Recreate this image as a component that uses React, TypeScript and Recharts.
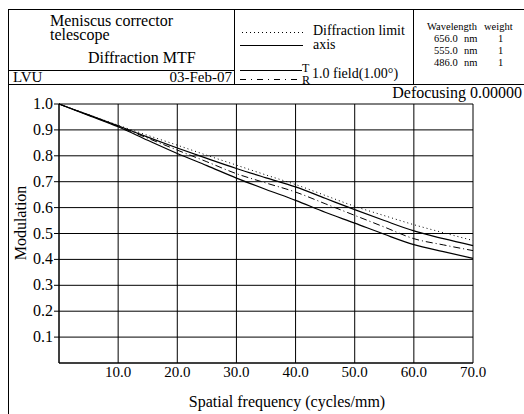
import { LineChart, Line, XAxis, YAxis, CartesianGrid } from 'recharts';

// spatial frequency (cycles/mm)
const freq = [0, 5, 10, 15, 20, 25, 30, 35, 40, 45, 50, 55, 60, 65, 70];

// modulation values
const diffLimit = [1.0, 0.959, 0.918, 0.879, 0.841, 0.802, 0.764, 0.726, 0.689, 0.647, 0.605, 0.569, 0.534, 0.503, 0.473];
const axisMtf = [1.0, 0.958, 0.916, 0.872, 0.83, 0.79, 0.751, 0.715, 0.68, 0.636, 0.592, 0.55, 0.51, 0.48, 0.453];
const fieldT = [1.0, 0.956, 0.912, 0.86, 0.809, 0.762, 0.714, 0.67, 0.628, 0.582, 0.54, 0.497, 0.457, 0.43, 0.404];
const fieldR = [1.0, 0.957, 0.914, 0.868, 0.822, 0.777, 0.731, 0.695, 0.66, 0.615, 0.57, 0.525, 0.48, 0.456, 0.434];

const xTicks = [10, 20, 30, 40, 50, 60, 70];
const yTicks = [0.1, 0.2, 0.3, 0.4, 0.5, 0.6, 0.7, 0.8, 0.9, 1.0];

const wavelengths = ['656.0', '555.0', '486.0'];
const weights = ['1', '1', '1'];

const data = freq.map((f, i) => ({
  freq: f,
  diff: diffLimit[i],
  axis: axisMtf[i],
  t: fieldT[i],
  r: fieldR[i],
}));

const FONT = "'Liberation Serif', 'Times New Roman', serif";
const DOTTED = '1 3';
const DASHDOT = '7 3 1 3';

const XTick = ({ x, y, payload }: any) => (
  <text x={x} y={y + 14} textAnchor="middle" fontFamily={FONT} fontSize={15} fill="#000">
    {Number(payload.value).toFixed(1)}
  </text>
);

const YTick = ({ x, y, payload }: any) => (
  <text x={x} y={y + 5} textAnchor="end" fontFamily={FONT} fontSize={16} fill="#000">
    {Number(payload.value).toFixed(1)}
  </text>
);

const Header = () => (
  <svg
    width={524}
    height={414}
    style={{ position: 'absolute', left: 0, top: 0, pointerEvents: 'none' }}
    fontFamily={FONT}
    fill="#000"
  >
    {/* frame */}
    <g stroke="#000" strokeWidth={1} fill="none">
      <line x1={8} y1={9.5} x2={524} y2={9.5} />
      <line x1={8.5} y1={9.5} x2={8.5} y2={414} />
      <line x1={8} y1={84.5} x2={524} y2={84.5} />
      <line x1={234.5} y1={9.5} x2={234.5} y2={84.5} />
      <line x1={413.5} y1={9.5} x2={413.5} y2={84.5} />
      <line x1={8} y1={70.5} x2={234} y2={70.5} />
    </g>

    {/* title block */}
    <text x={50} y={26} fontSize={16}>Meniscus corrector</text>
    <text x={50} y={40} fontSize={16}>telescope</text>
    <text x={88} y={63} fontSize={16}>Diffraction MTF</text>
    <text x={13} y={82} fontSize={15}>LVU</text>
    <text x={232} y={82} fontSize={15} textAnchor="end">03-Feb-07</text>

    {/* legend */}
    <g stroke="#000" strokeWidth={1}>
      <line x1={242} y1={32.5} x2={305} y2={32.5} strokeDasharray={DOTTED} />
      <line x1={240} y1={45.5} x2={303} y2={45.5} />
      <line x1={240} y1={70.5} x2={302} y2={70.5} />
      <line x1={240} y1={79.5} x2={302} y2={79.5} strokeDasharray="6 5 1 5" />
    </g>
    <text x={313} y={35} fontSize={14}>Diffraction limit</text>
    <text x={313} y={49} fontSize={14}>axis</text>
    <text x={302} y={72} fontSize={12}>T</text>
    <text x={302} y={84} fontSize={12}>R</text>
    <text x={312} y={78} fontSize={14}>1.0 field(1.00°)</text>

    {/* wavelengths */}
    <text x={427} y={30} fontSize={10.5}>Wavelength</text>
    <text x={484} y={30} fontSize={10.5}>weight</text>
    {wavelengths.map((w, i) => (
      <g key={w} fontSize={10.5}>
        <text x={434} y={42 + i * 12}>{w}</text>
        <text x={464} y={42 + i * 12}>nm</text>
        <text x={498} y={42 + i * 12}>{weights[i]}</text>
      </g>
    ))}

    <text x={522} y={98} fontSize={16} textAnchor="end">Defocusing 0.00000</text>

    {/* axis titles */}
    <text x={287} y={407} fontSize={16} textAnchor="middle">Spatial frequency (cycles/mm)</text>
    <text x={26} y={223} fontSize={16} textAnchor="middle" transform="rotate(-90 26 223)">Modulation</text>
  </svg>
);

export default function App() {
  return (
    <div style={{ position: 'absolute', left: 0, top: 0, width: 524, height: 414, background: '#fff', fontFamily: FONT }}>
      <LineChart
        width={524}
        height={414}
        data={data}
        margin={{ top: 104, right: 51, bottom: 21, left: 9 }}
      >
        <CartesianGrid stroke="#000" strokeWidth={1} />
        <XAxis
          dataKey="freq"
          type="number"
          domain={[0, 70]}
          ticks={xTicks}
          height={30}
          tickLine={false}
          tickSize={0}
          tickMargin={0}
          stroke="#000"
          tick={<XTick />}
        />
        <YAxis
          type="number"
          domain={[0, 1]}
          ticks={yTicks}
          width={50}
          tickSize={5}
          tickMargin={1}
          stroke="#000"
          tick={<YTick />}
        />
        <Line type="monotone" dataKey="diff" stroke="#000" strokeWidth={1} strokeDasharray={DOTTED} dot={false} isAnimationActive={false} />
        <Line type="monotone" dataKey="axis" stroke="#000" strokeWidth={1.2} dot={false} isAnimationActive={false} />
        <Line type="monotone" dataKey="t" stroke="#000" strokeWidth={1.2} dot={false} isAnimationActive={false} />
        <Line type="monotone" dataKey="r" stroke="#000" strokeWidth={1} strokeDasharray={DASHDOT} dot={false} isAnimationActive={false} />
      </LineChart>
      <Header />
    </div>
  );
}
